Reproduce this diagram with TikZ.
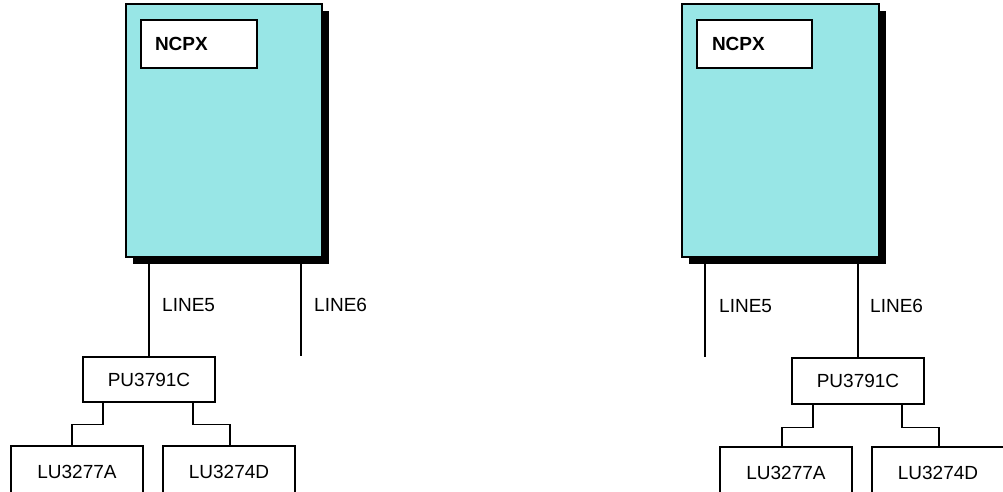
\documentclass[tikz,border=0pt]{standalone}
\usepackage{fontspec}
\setmainfont{Liberation Sans}
\usetikzlibrary{shadows}
\definecolor{hostcyan}{RGB}{152,230,230}
\newcommand{\diagfont}{\fontsize{19}{22}\selectfont}
\tikzset{
  host/.style={draw=black, line width=1.8pt, fill=hostcyan, inner sep=0pt,
    minimum width=196pt, minimum height=253pt,
    drop shadow={shadow xshift=7pt, shadow yshift=-7pt, fill=black, opacity=1}},
  namebox/.style={draw=black, line width=1.6pt, fill=white, inner ysep=0pt, inner xsep=14pt,
    text width=88pt, align=left, minimum height=48pt, font=\diagfont\bfseries},
  unitbox/.style={draw=black, line width=1.4pt, fill=white, inner sep=0pt,
    minimum width=132pt, minimum height=45pt},
  lubox/.style={unitbox, minimum height=51pt},
  wire/.style={draw=black, line width=1.4pt},
  linelabel/.style={inner sep=0pt, anchor=west}
}
\begin{document}
\begin{tikzpicture}[x=1pt,y=-1pt, every node/.style={font=\diagfont}]
\useasboundingbox (0,0) rectangle (1003,492);
\clip (0,0) rectangle (1003,492);
% ---------- left diagram ----------
\node[host] (hostL) at (224,130.5) {};
\node[namebox] (ncpxL) at (199,44) {NCPX};
\node[unitbox] (puL) at (149,379.5) {PU3791C};
\node[lubox] (luAL) at (77,471.5) {LU3277A};
\node[lubox] (luDL) at (229,471.5) {LU3274D};
\coordinate (end6L) at (301,356);
\draw[wire] (puL.north |- hostL.south) -- (puL.north);
\draw[wire] (end6L |- hostL.south) -- (end6L);
\node[linelabel] (l5L) at (162,305) {LINE5};
\node[linelabel] (l6L) at (314,305) {LINE6};
\draw[wire] ([xshift=-46pt]puL.south) -- ++(0,22) -| ([xshift=-5pt]luAL.north);
\draw[wire] ([xshift=44pt]puL.south) -- ++(0,22) -| ([xshift=1pt]luDL.north);
% ---------- right diagram ----------
\node[host, minimum width=197pt] (hostR) at (780.5,130.5) {};
\node[namebox, text width=85pt, inner xsep=15pt] (ncpxR) at (754.5,44) {NCPX};
\node[unitbox, minimum height=46pt] (puR) at (858,381) {PU3791C};
\node[lubox] (luAR) at (786,472.5) {LU3277A};
\node[lubox] (luDR) at (938,472.5) {LU3274D};
\coordinate (end5R) at (705,357);
\draw[wire] (end5R |- hostR.south) -- (end5R);
\draw[wire] (puR.north |- hostR.south) -- (puR.north);
\node[linelabel] (l5R) at (719,306) {LINE5};
\node[linelabel] (l6R) at (870,306) {LINE6};
\draw[wire] ([xshift=-45pt]puR.south) -- ++(0,23) -| ([xshift=-4pt]luAR.north);
\draw[wire] ([xshift=44pt]puR.south) -- ++(0,23) -| ([xshift=1pt]luDR.north);
\end{tikzpicture}
\end{document}
